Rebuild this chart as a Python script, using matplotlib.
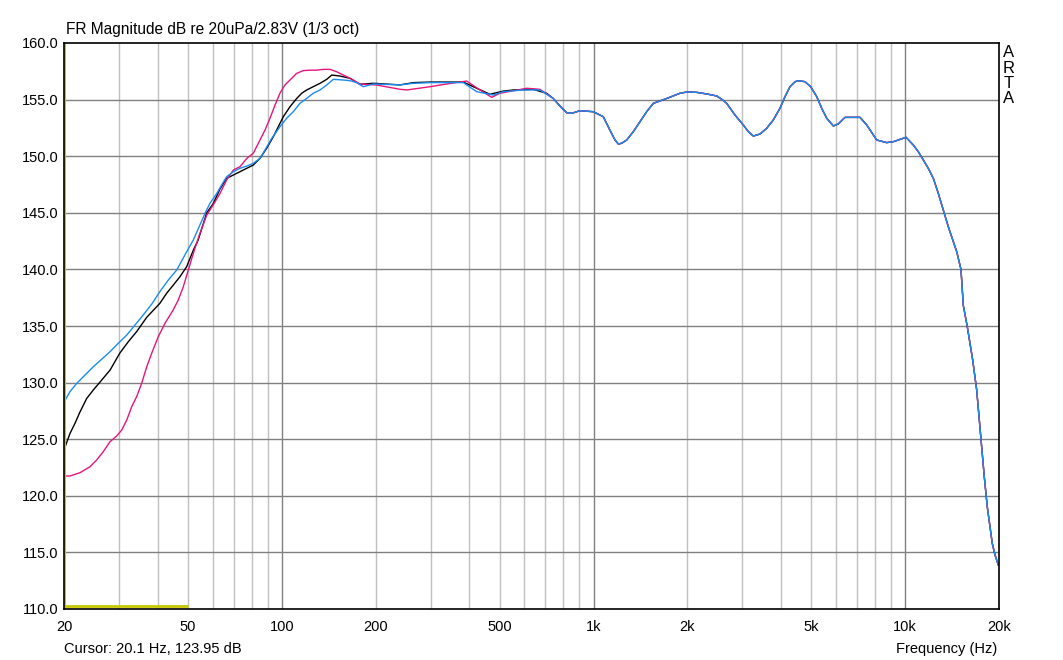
import numpy as np
import matplotlib
matplotlib.use("Agg")
import matplotlib.pyplot as plt
from matplotlib.ticker import FixedLocator, NullFormatter

# ---------------- data ----------------
blue_low_f = [20, 20.9, 21.98, 23.36, 24.84, 26.42, 28.1, 29.86, 31.8, 33.79, 35.9,
              38.24, 40.6, 43.22, 46.0, 49.5, 52.0, 54.6, 56.7, 58.8, 61.8, 64.1,
              66.5, 69.9, 73.4, 77.2, 81.0, 85.1, 88.3, 92.8, 98.6, 103.6, 108.8,
              114.3, 120.1, 126.1, 132.6, 139.3, 146.3, 157.5, 165.5, 173.8, 182.5,
              196.5, 239.4, 264.2, 298.9, 382.2, 421.9, 477.0, 513.1, 595.1, 673.3]
blue_low_db = [128.26, 129.2, 129.94, 130.67, 131.4, 132.06, 132.73, 133.47, 134.2,
               135.09, 135.97, 136.94, 138.03, 139.06, 139.95, 141.56, 142.6, 143.92,
               144.96, 145.84, 146.7, 147.46, 148.19, 148.63, 148.93, 149.13, 149.37,
               149.81, 150.55, 151.58, 152.6, 153.35, 153.93, 154.67, 155.1, 155.56,
               155.85, 156.29, 156.79, 156.73, 156.67, 156.5, 156.14, 156.38, 156.3,
               156.44, 156.5, 156.5, 155.7, 155.4, 155.7, 155.85, 155.85]

black_low_f = [20, 20.9, 21.69, 22.5, 23.65, 24.84, 26.42, 28.1, 29.14, 30.2, 32.16,
               34.2, 36.86, 40.6, 42.71, 44.8, 47.12, 49.5, 52.0, 53.9, 57.4, 60.2,
               63.3, 66.5, 69.9, 73.4, 77.2, 81.0, 85.1, 89.4, 93.9, 97.4, 101.1,
               106.2, 111.6, 115.8, 120.1, 126.1, 132.6, 139.3, 144.6, 153.7, 165.5,
               178.1, 196.5, 239.4, 264.2, 298.9, 382.2, 421.9, 465.5, 513.1, 552.6,
               639.3, 707.5]
black_low_db = [124.05, 125.5, 126.4, 127.4, 128.6, 129.35, 130.23, 131.1, 131.85,
                132.6, 133.61, 134.5, 135.77, 137.0, 137.9, 138.6, 139.36, 140.24,
                141.7, 142.6, 145.0, 145.8, 147.1, 148.04, 148.34, 148.63, 148.93,
                149.22, 149.81, 150.7, 151.72, 152.6, 153.49, 154.37, 155.1, 155.56,
                155.85, 156.14, 156.44, 156.79, 157.17, 157.08, 156.88, 156.35,
                156.44, 156.3, 156.5, 156.55, 156.55, 156.0, 155.47, 155.75, 155.85,
                155.91, 155.56]

magenta_low_f = [20, 20.9, 22.5, 24.25, 25.45, 26.74, 28.1, 29.51, 30.62, 31.8, 32.98,
                 34.2, 35.5, 36.86, 38.24, 40.14, 42.18, 44.8, 46.53, 48.29, 50.1,
                 52.0, 54.3, 57.4, 60.2, 63.3, 66.5, 69.9, 73.4, 77.2, 81.0, 85.1,
                 88.3, 91.6, 95.1, 98.6, 102.3, 106.2, 111.6, 117.1, 123.1, 129.4,
                 135.9, 142.8, 149.9, 157.5, 165.5, 178.1, 201.5, 239.4, 251.6, 298.9,
                 338.1, 391.9, 432.3, 471.4, 500.7, 610.2, 673.3]
magenta_low_db = [121.75, 121.75, 122.04, 122.57, 123.16, 123.9, 124.78, 125.28,
                  125.8, 126.7, 127.87, 128.75, 129.94, 131.4, 132.6, 134.06, 135.24,
                  136.41, 137.3, 138.47, 139.95, 141.42, 143.0, 144.8, 145.69, 146.7,
                  147.9, 148.78, 149.07, 149.81, 150.26, 151.43, 152.31, 153.35,
                  154.52, 155.56, 156.29, 156.73, 157.32, 157.56, 157.6, 157.6,
                  157.67, 157.67, 157.46, 157.17, 156.88, 156.38, 156.29, 155.91,
                  155.85, 156.14, 156.38, 156.64, 155.85, 155.2, 155.56, 156.0, 155.91]

# common part (all three curves coincide above ~700 Hz)
common_f = [742.7, 780.4, 820.3, 851.4, 904.9, 998.2, 1075, 1129, 1172, 1201, 1231,
            1278, 1342, 1410, 1481, 1556, 1717, 1894, 1991, 2143, 2307, 2485, 2578,
            2675, 2843, 3024, 3138, 3256, 3422, 3594, 3774, 3965, 4116, 4270, 4431,
            4541, 4772, 4975, 5203, 5398, 5602, 5881, 6101, 6412, 7163, 7526, 8104,
            8725, 9162, 9624, 10063, 10617, 11017, 11433, 11863, 12312, 12772, 13251,
            13751, 14098, 14635, 15102, 15364, 15822, 16147, 16466, 16960, 17289,
            17598, 17938, 18339, 18713, 19028, 19419, 19896]
common_db = [155.1, 154.43, 153.84, 153.79, 154.02, 153.93, 153.49, 152.3, 151.43,
             151.08, 151.14, 151.43, 152.17, 153.05, 153.93, 154.67, 155.1, 155.56,
             155.67, 155.64, 155.5, 155.32, 155.03, 154.67, 153.64, 152.76, 152.17,
             151.78, 151.96, 152.46, 153.2, 154.23, 155.26, 156.14, 156.58, 156.67,
             156.58, 156.14, 155.26, 154.23, 153.35, 152.67, 152.85, 153.43, 153.43,
             152.76, 151.43, 151.2, 151.28, 151.49, 151.67, 150.99, 150.4, 149.66,
             148.93, 148.04, 146.72, 145.25, 143.77, 142.89, 141.56, 140.0, 136.82,
             134.94, 133.47, 132.0, 129.35, 126.7, 124.34, 121.69, 119.04, 117.27,
             115.8, 114.77, 113.89]

xtick_vals = [20, 50, 100, 200, 500, 1000, 2000, 5000, 10000, 20000]
xtick_labels = ["20", "50", "100", "200", "500", "1k", "2k", "5k", "10k", "20k"]
ytick_vals = [110, 115, 120, 125, 130, 135, 140, 145, 150, 155, 160]

cursor_f = 20.1
cursor_db = 123.95
yellow_f = [20, 50]
yellow_db = [110.3, 110.3]

# ---------------- plotting ----------------
plt.rcParams['font.family'] = ['Liberation Sans', 'DejaVu Sans']

W, H = 1063, 660
fig = plt.figure(figsize=(W / 100, H / 100), dpi=100)
ax = fig.add_axes([64 / W, 1 - 609 / H, (999 - 64) / W, (609 - 43) / H])

ax.set_xscale('log')
ax.set_xlim(20, 20000)
ax.set_ylim(110, 160)

major_grid = [100, 1000, 10000]
minor_grid = [f for dec in (10, 100, 1000) for f in np.arange(2, 10) * dec
              if 20 < f < 20000 and f not in major_grid]
for f in minor_grid:
    ax.axvline(f, color='#c0c0c0', lw=1.0, zorder=1)
for f in major_grid:
    ax.axvline(f, color='#808080', lw=1.0, zorder=1)
for v in ytick_vals[1:-1]:
    ax.axhline(v, color='#808080', lw=1.0, zorder=1)

def full(lf, ld):
    return np.array(lf + common_f), np.array(ld + common_db)

bf, bd = full(black_low_f, black_low_db)
mf, md = full(magenta_low_f, magenta_low_db)
uf, ud = full(blue_low_f, blue_low_db)

ax.plot(bf, bd, color='black', lw=1.0, zorder=3)
ax.plot(mf, md, color='#e8147c', lw=1.0, zorder=4)
ax.plot(uf, ud, color='#1a8cf0', lw=1.0, zorder=5)

ax.axvline(cursor_f, color='#c8c800', lw=1.5, zorder=6)
ax.plot(yellow_f, yellow_db, color='#c8c800', lw=2.0, zorder=6, solid_capstyle='butt')

ax.xaxis.set_major_locator(FixedLocator(xtick_vals))
ax.xaxis.set_minor_locator(FixedLocator([]))
ax.set_xticks(xtick_vals)
ax.set_xticklabels(xtick_labels)
ax.xaxis.set_minor_formatter(NullFormatter())
ax.set_yticks(ytick_vals)
ax.set_yticklabels([f"{v:.1f}" for v in ytick_vals])
ax.tick_params(axis='x', length=0, pad=8, labelsize=10.5)
ax.tick_params(axis='y', length=0, pad=4, labelsize=10.5)

for s in ax.spines.values():
    s.set_color('black')
    s.set_linewidth(1.2)
    s.set_zorder(7)

fig.text(66 / W, 1 - 34 / H, "FR Magnitude dB re 20uPa/2.83V (1/3 oct)",
         fontsize=11.2, ha='left', va='baseline')
fig.text(64 / W, 1 - 653 / H, f"Cursor: {cursor_f} Hz, {cursor_db:.2f} dB",
         fontsize=10.5, ha='left', va='baseline')
fig.text(997 / W, 1 - 653 / H, "Frequency (Hz)",
         fontsize=10.5, ha='right', va='baseline')
for i, ch in enumerate("ARTA"):
    fig.text(1009 / W, 1 - (57.3 + 15.3 * i) / H, ch, fontsize=12,
             ha='center', va='baseline')

fig.savefig("out.png", dpi=100)
